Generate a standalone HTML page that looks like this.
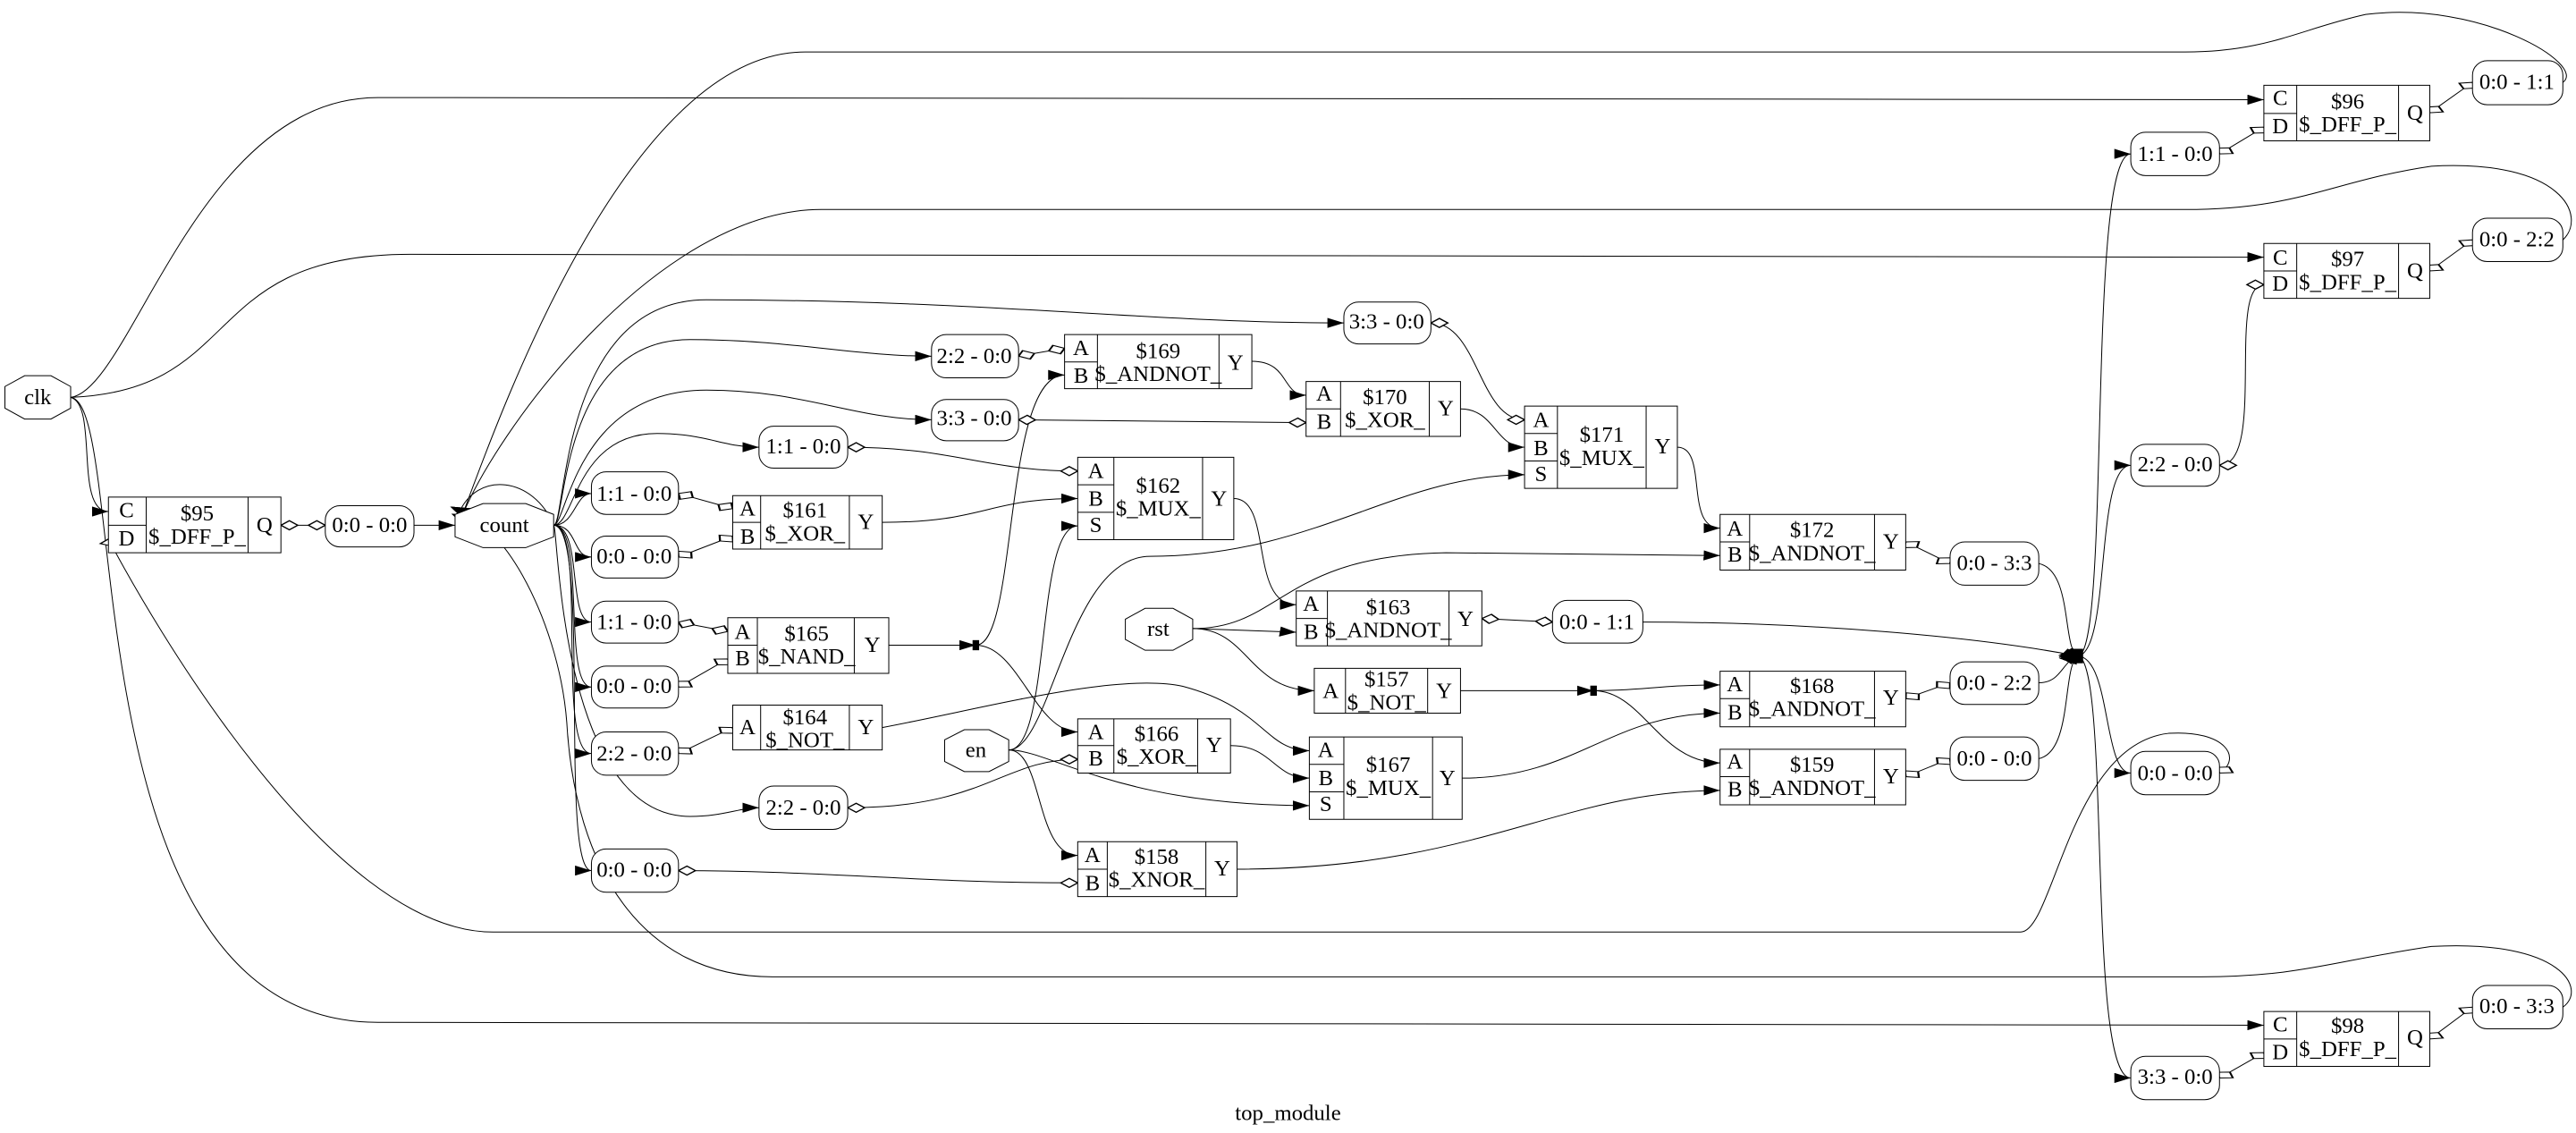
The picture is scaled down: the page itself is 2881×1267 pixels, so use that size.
<!DOCTYPE html>
<html><head><meta charset="utf-8"><style>
html,body{margin:0;padding:0;background:#fff;}
svg{display:block;}
text{font-family:"Liberation Serif","Times New Roman",Times,serif;font-size:13.5px;fill:#000;text-anchor:middle;dominant-baseline:central;}
.s path,.s line,.s rect,.s polygon{vector-effect:non-scaling-stroke;}
</style></head><body>
<svg width="2881" height="1267" viewBox="0 0 1568 690" preserveAspectRatio="none" xmlns="http://www.w3.org/2000/svg">
<defs>
<marker id="a" markerUnits="userSpaceOnUse" viewBox="0 0 10 10" refX="10" refY="5" markerWidth="10" markerHeight="14" orient="auto" preserveAspectRatio="none"><path d="M0,0L10,5L0,10z" fill="#000"/></marker>
<marker id="ds" markerUnits="userSpaceOnUse" viewBox="-1 -1 14 12" refX="0" refY="5" markerWidth="12" markerHeight="15" orient="auto" preserveAspectRatio="none"><path d="M0,5L6,0L12,5L6,10z" fill="#fff" stroke="#000" stroke-width="1.2"/></marker>
<marker id="de" markerUnits="userSpaceOnUse" viewBox="-1 -1 14 12" refX="12" refY="5" markerWidth="12" markerHeight="15" orient="auto" preserveAspectRatio="none"><path d="M0,5L6,0L12,5L6,10z" fill="#fff" stroke="#000" stroke-width="1.2"/></marker>
</defs>
<g class="s" transform="scale(1,0.44)" fill="none" stroke="#000" stroke-width="1">
<g marker-end="url(#a)">
<path d="M43,550 C80,540 120,135 230,135 L1378,138"/>
<path d="M43,550 C150,540 120,352 250,352 L1378,356"/>
<path d="M43,550 C60,560 45,708 66,708"/>
<path d="M43,550 C80,560 40,1415 230,1415 L1378,1419"/>
<path d="M1560,114 C1575,90 1510,0 1440,20 C1400,40 1380,72 1330,72 L490,72 C380,72 300,600 280,722"/>
<path d="M1560,332 C1575,300 1560,220 1480,230 C1420,250 1400,290 1330,290 L500,290 C400,290 300,600 280,722"/>
<path d="M1560,1394 C1575,1370 1560,1300 1480,1310 C1420,1330 1400,1352 1340,1352 L470,1352 C390,1352 350,1200 345,1000 C340,850 300,700 280,724"/>
<path d="M252,727 L277,727"/>
<path d="M337,727 C350,727 350,683 360,683"/>
<path d="M337,727 C352,727 348,771 360,771"/>
<path d="M337,727 C355,727 345,861 360,861"/>
<path d="M337,727 C357,727 342,951 360,951"/>
<path d="M337,727 C358,727 338,1043 360,1043"/>
<path d="M337,727 C360,727 340,1205 360,1205"/>
<path d="M337,727 C350,727 350,600 400,600 C430,600 440,619 462,619"/>
<path d="M337,727 C340,727 340,1130 420,1130 C440,1130 450,1118 462,1118"/>
<path d="M337,727 C345,727 340,470 420,470 C480,470 520,493 567,493"/>
<path d="M337,727 C345,727 350,540 430,540 C490,540 520,581 567,581"/>
<path d="M337,727 C345,727 340,415 430,415 C600,415 700,447 818,447"/>
<path d="M337,727 C325,660 290,650 279,712"/>
<path d="M537,723 C600,723 600,690 656,690"/>
<path d="M541,893 L594,893"/>
<path d="M594,893 C620,893 610,519 648,519"/>
<path d="M594,893 C620,893 630,1013 656,1013"/>
<path d="M537,1007 C600,980 680,930 720,950 C770,980 770,1039 797,1039"/>
<path d="M614,1038 C635,1038 630,1184 656,1184"/>
<path d="M614,1038 C640,1038 680,1115 797,1115"/>
<path d="M614,1038 C640,1038 630,728 656,728"/>
<path d="M614,1038 C640,1038 650,770 700,770 C800,770 850,657 928,657"/>
<path d="M749,1032 C775,1032 775,1077 797,1077"/>
<path d="M762,500 C785,500 780,547 795,547"/>
<path d="M889,566 C910,566 910,619 928,619"/>
<path d="M1021,619 C1040,619 1025,731 1047,731"/>
<path d="M726,870 C780,870 780,769 880,765 L1047,769"/>
<path d="M726,870 L789,875"/>
<path d="M726,870 C760,870 760,956 800,956"/>
<path d="M751,690 C775,690 760,837 789,837"/>
<path d="M1000,861 C1100,861 1200,880 1265,908"/>
<path d="M889,956 L970,956"/>
<path d="M970,956 C1000,956 1010,948 1047,948"/>
<path d="M970,956 C1000,956 1010,1056 1047,1056"/>
<path d="M890,1077 C960,1077 980,987 1047,987"/>
<path d="M753,1203 C900,1203 950,1094 1047,1094"/>
<path d="M1241,780 C1262,790 1255,900 1265,908"/>
<path d="M1241,945 C1255,945 1255,915 1265,908"/>
<path d="M1241,1050 C1262,1040 1255,920 1265,908"/>
<path d="M1265,908 C1285,900 1270,213 1297,213"/>
<path d="M1265,908 C1285,900 1275,644 1297,644"/>
<path d="M1265,908 C1285,912 1280,1070 1297,1070"/>
<path d="M1265,908 C1285,920 1270,1492 1297,1492"/>
</g>
<g marker-start="url(#ds)" marker-end="url(#de)">
<path d="M171,727 L198,727"/>
<path d="M1351,1070 C1365,1050 1355,1010 1320,1015 C1260,1030 1250,1290 1230,1290 L300,1290 C200,1290 90,850 66,746"/>
<path d="M413,683 L446,704"/>
<path d="M413,771 L446,742"/>
<path d="M516,619 C580,619 600,652 656,652"/>
<path d="M413,861 L443,874"/>
<path d="M413,951 L443,912"/>
<path d="M413,1043 L446,1007"/>
<path d="M516,1118 C600,1118 610,1051 656,1051"/>
<path d="M413,1205 C500,1205 560,1222 656,1222"/>
<path d="M620,493 L648,482"/>
<path d="M620,581 L795,585"/>
<path d="M871,447 C900,447 900,581 928,581"/>
<path d="M902,856 L945,861"/>
<path d="M1160,750 L1187,780"/>
<path d="M1160,967 L1187,945"/>
<path d="M1160,1075 L1187,1050"/>
<path d="M1351,213 L1378,176"/>
<path d="M1351,644 C1380,644 1355,394 1378,394"/>
<path d="M1351,1492 L1378,1457"/>
<path d="M1479,156 L1505,114"/>
<path d="M1479,375 L1505,332"/>
<path d="M1479,1438 L1505,1394"/>
</g>
<g fill="#000" stroke="none">
<rect x="592" y="886" width="4" height="14"/>
<rect x="968" y="949" width="4" height="14"/>
<rect x="1262" y="898" width="6" height="20"/>
</g>
<g fill="#fff">
<polygon points="15,520 31,520 43,535 43,565 31,580 15,580 3,565 3,535"/>
<polygon points="294,697 320,697 337,712 337,743 320,758 294,758 277,743 277,712"/>
<polygon points="697,842 714,842 726,857 726,885 714,900 697,900 685,885 685,857"/>
<polygon points="587,1010 602,1010 614,1024 614,1054 602,1068 587,1068 575,1054 575,1024"/>
</g>
<g fill="#fff">
<rect x="198" y="700" width="54" height="57" rx="9" ry="20"/>
<rect x="360" y="653" width="53" height="59" rx="9" ry="20"/>
<rect x="360" y="742" width="53" height="58" rx="9" ry="20"/>
<rect x="360" y="832" width="53" height="58" rx="9" ry="20"/>
<rect x="360" y="922" width="53" height="58" rx="9" ry="20"/>
<rect x="360" y="1013" width="53" height="60" rx="9" ry="20"/>
<rect x="360" y="1175" width="53" height="60" rx="9" ry="20"/>
<rect x="462" y="590" width="54" height="58" rx="9" ry="20"/>
<rect x="462" y="1088" width="54" height="60" rx="9" ry="20"/>
<rect x="567" y="463" width="53" height="60" rx="9" ry="20"/>
<rect x="567" y="553" width="53" height="57" rx="9" ry="20"/>
<rect x="818" y="418" width="53" height="58" rx="9" ry="20"/>
<rect x="945" y="831" width="55" height="59" rx="9" ry="20"/>
<rect x="1187" y="750" width="54" height="60" rx="9" ry="20"/>
<rect x="1187" y="916" width="54" height="59" rx="9" ry="20"/>
<rect x="1187" y="1020" width="54" height="60" rx="9" ry="20"/>
<rect x="1297" y="183" width="54" height="60" rx="9" ry="20"/>
<rect x="1297" y="615" width="54" height="58" rx="9" ry="20"/>
<rect x="1297" y="1040" width="54" height="60" rx="9" ry="20"/>
<rect x="1297" y="1462" width="54" height="60" rx="9" ry="20"/>
<rect x="1505" y="84" width="55" height="61" rx="9" ry="20"/>
<rect x="1505" y="302" width="55" height="60" rx="9" ry="20"/>
<rect x="1505" y="1364" width="55" height="60" rx="9" ry="20"/>
</g>
<g fill="#fff">
<rect x="66" y="688" width="105" height="77"/><path d="M89,688V765M151,688V765M66,727H89"/>
<rect x="1378" y="118" width="101" height="77"/><path d="M1398,118V195M1460,118V195M1378,157H1398"/>
<rect x="1378" y="337" width="101" height="76"/><path d="M1398,337V413M1460,337V413M1378,375H1398"/>
<rect x="1378" y="1400" width="101" height="76"/><path d="M1398,1400V1476M1460,1400V1476M1378,1438H1398"/>
<rect x="446" y="686" width="91" height="74"/><path d="M463,686V760M517,686V760M446,723H463"/>
<rect x="443" y="855" width="98" height="77"/><path d="M461,855V932M520,855V932M443,893H461"/>
<rect x="446" y="976" width="91" height="62"/><path d="M463,976V1038M517,976V1038"/>
<rect x="648" y="463" width="114" height="75"/><path d="M668,463V538M742,463V538M648,501H668"/>
<rect x="656" y="633" width="95" height="114"/><path d="M678,633V747M732,633V747M656,671H678M656,709H678"/>
<rect x="656" y="995" width="93" height="75"/><path d="M678,995V1070M729,995V1070M656,1032H678"/>
<rect x="656" y="1165" width="97" height="76"/><path d="M674,1165V1241M734,1165V1241M656,1203H674"/>
<rect x="795" y="528" width="94" height="76"/><path d="M816,528V604M870,528V604M795,566H816"/>
<rect x="928" y="562" width="93" height="114"/><path d="M948,562V676M1002,562V676M928,600H948M928,638H948"/>
<rect x="1047" y="712" width="113" height="77"/><path d="M1065,712V789M1141,712V789M1047,750H1065"/>
<rect x="789" y="818" width="113" height="76"/><path d="M808,818V894M882,818V894M789,856H808"/>
<rect x="800" y="925" width="89" height="62"/><path d="M819,925V987M869,925V987"/>
<rect x="1047" y="929" width="113" height="77"/><path d="M1065,929V1006M1141,929V1006M1047,967H1065"/>
<rect x="1047" y="1037" width="113" height="77"/><path d="M1065,1037V1114M1141,1037V1114M1047,1075H1065"/>
<rect x="797" y="1020" width="93" height="114"/><path d="M818,1020V1134M872,1020V1134M797,1058H818M797,1096H818"/>
</g>
</g>
<g font-family="Liberation Serif, serif">
<text x="23" y="242">clk</text>
<text x="307" y="320">count</text>
<text x="705" y="383">rst</text>
<text x="594" y="457">en</text>
<text x="225" y="320">0:0 - 0:0</text>
<text x="386" y="301">1:1 - 0:0</text>
<text x="386" y="339">0:0 - 0:0</text>
<text x="386" y="379">1:1 - 0:0</text>
<text x="386" y="418">0:0 - 0:0</text>
<text x="386" y="459">2:2 - 0:0</text>
<text x="386" y="530">0:0 - 0:0</text>
<text x="489" y="272">1:1 - 0:0</text>
<text x="489" y="492">2:2 - 0:0</text>
<text x="593" y="217">2:2 - 0:0</text>
<text x="593" y="255">3:3 - 0:0</text>
<text x="844" y="196">3:3 - 0:0</text>
<text x="972" y="379">0:0 - 1:1</text>
<text x="1214" y="343">0:0 - 3:3</text>
<text x="1214" y="416">0:0 - 2:2</text>
<text x="1214" y="462">0:0 - 0:0</text>
<text x="1324" y="94">1:1 - 0:0</text>
<text x="1324" y="283">2:2 - 0:0</text>
<text x="1324" y="471">0:0 - 0:0</text>
<text x="1324" y="656">3:3 - 0:0</text>
<text x="1532" y="50">0:0 - 1:1</text>
<text x="1532" y="146">0:0 - 2:2</text>
<text x="1532" y="613">0:0 - 3:3</text>
<text x="77" y="311">C</text><text x="77" y="328">D</text><text x="120" y="313">$95</text><text x="120" y="327">$_DFF_P_</text><text x="161" y="320">Q</text>
<text x="1388" y="60">C</text><text x="1388" y="77">D</text><text x="1429" y="62">$96</text><text x="1429" y="76">$_DFF_P_</text><text x="1470" y="69">Q</text>
<text x="1388" y="157">C</text><text x="1388" y="173">D</text><text x="1429" y="158">$97</text><text x="1429" y="172">$_DFF_P_</text><text x="1470" y="165">Q</text>
<text x="1388" y="624">C</text><text x="1388" y="641">D</text><text x="1429" y="625">$98</text><text x="1429" y="639">$_DFF_P_</text><text x="1470" y="632">Q</text>
<text x="455" y="310">A</text><text x="455" y="327">B</text><text x="490" y="311">$161</text><text x="490" y="325">$_XOR_</text><text x="527" y="318">Y</text>
<text x="452" y="385">A</text><text x="452" y="401">B</text><text x="491" y="386">$165</text><text x="491" y="400">$_NAND_</text><text x="531" y="393">Y</text>
<text x="455" y="443">A</text><text x="490" y="437">$164</text><text x="490" y="451">$_NOT_</text><text x="527" y="443">Y</text>
<text x="658" y="212">A</text><text x="658" y="229">B</text><text x="705" y="214">$169</text><text x="705" y="228">$_ANDNOT_</text><text x="752" y="221">Y</text>
<text x="667" y="287">A</text><text x="667" y="304">B</text><text x="667" y="320">S</text><text x="705" y="296">$162</text><text x="705" y="310">$_MUX_</text><text x="742" y="304">Y</text>
<text x="667" y="446">A</text><text x="667" y="462">B</text><text x="704" y="447">$166</text><text x="704" y="461">$_XOR_</text><text x="739" y="454">Y</text>
<text x="665" y="521">A</text><text x="665" y="538">B</text><text x="704" y="522">$158</text><text x="704" y="536">$_XNOR_</text><text x="744" y="529">Y</text>
<text x="806" y="240">A</text><text x="806" y="257">B</text><text x="843" y="242">$170</text><text x="843" y="256">$_XOR_</text><text x="880" y="249">Y</text>
<text x="938" y="256">A</text><text x="938" y="273">B</text><text x="938" y="289">S</text><text x="975" y="265">$171</text><text x="975" y="279">$_MUX_</text><text x="1012" y="272">Y</text>
<text x="1056" y="322">A</text><text x="1056" y="338">B</text><text x="1103" y="323">$172</text><text x="1103" y="337">$_ANDNOT_</text><text x="1151" y="330">Y</text>
<text x="798" y="368">A</text><text x="798" y="385">B</text><text x="845" y="370">$163</text><text x="845" y="384">$_ANDNOT_</text><text x="892" y="377">Y</text>
<text x="810" y="421">A</text><text x="844" y="414">$157</text><text x="844" y="428">$_NOT_</text><text x="879" y="421">Y</text>
<text x="1056" y="417">A</text><text x="1056" y="434">B</text><text x="1103" y="418">$168</text><text x="1103" y="432">$_ANDNOT_</text><text x="1151" y="425">Y</text>
<text x="1056" y="464">A</text><text x="1056" y="481">B</text><text x="1103" y="466">$159</text><text x="1103" y="480">$_ANDNOT_</text><text x="1151" y="473">Y</text>
<text x="807" y="457">A</text><text x="807" y="474">B</text><text x="807" y="490">S</text><text x="845" y="466">$167</text><text x="845" y="480">$_MUX_</text><text x="881" y="474">Y</text>
<text x="784" y="678">top_module</text>
</g>
</svg>
</body></html>
